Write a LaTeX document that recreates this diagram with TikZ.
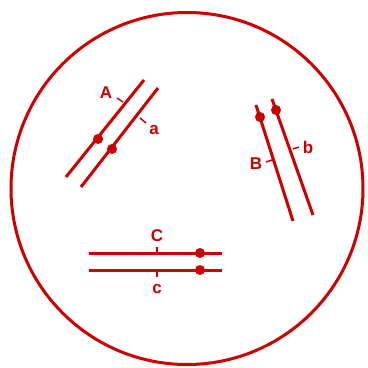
\documentclass[tikz,border=0pt]{standalone}
\usepackage{fontspec}
\setmainfont{Liberation Sans}
\begin{document}
\begin{tikzpicture}[x=1pt,y=-1pt,
  ln/.style={draw=rd,line width=3pt},
  tk/.style={draw=rd,line width=1.5pt},
  dot/.style={circle,fill=rd,inner sep=0pt,minimum size=10pt},
  lbl/.style={text=rd,font=\fontsize{17}{17}\selectfont\bfseries,inner sep=0pt}]
\definecolor{rd}{RGB}{204,0,0}
\useasboundingbox (0,0) rectangle (368,368);
\node[draw=rd,line width=3pt,circle,minimum size=352pt,inner sep=0pt] (ring) at (187,188.5) {};
% pair A/a
\coordinate (A1) at (66,177); \coordinate (A2) at (144,80);
\coordinate (a1) at (81,187); \coordinate (a2) at (158,88);
\draw[ln] (A1) -- (A2);
\draw[ln] (a1) -- (a2);
\node[dot] (dA) at (98,139) {};
\node[dot] (da) at (112,149) {};
\coordinate (tA) at (123,102); \coordinate (tA2) at (117,98);
\coordinate (ta) at (140,118); \coordinate (ta2) at (146,123);
\draw[tk] (tA) -- (tA2);
\draw[tk] (ta) -- (ta2);
\node[lbl] (LA) at (106,93) {A};
\node[lbl] (La) at (154,130) {a};
% pair B/b
\coordinate (B1) at (256,105); \coordinate (B2) at (293,221);
\coordinate (b1) at (272,99); \coordinate (b2) at (313,215);
\draw[ln] (B1) -- (B2);
\draw[ln] (b1) -- (b2);
\node[dot] (dB) at (260,117) {};
\node[dot] (db) at (276,110) {};
\coordinate (tB) at (272,160); \coordinate (tB2) at (266,162);
\coordinate (tb) at (293,149); \coordinate (tb2) at (299,147);
\draw[tk] (tB) -- (tB2);
\draw[tk] (tb) -- (tb2);
\node[lbl] (LB) at (256,164) {B};
\node[lbl] (Lb) at (308,147) {b};
% pair C/c
\coordinate (C1) at (89,253); \coordinate (C2) at (222,253);
\coordinate (c1) at (89,270); \coordinate (c2) at (222,270);
\draw[ln] (C1) -- (C2);
\draw[ln] (c1) -- (c2);
\node[dot] (dC) at (200,253) {};
\node[dot] (dc) at (200,270) {};
\coordinate (tC) at (157,253); \coordinate (tC2) at (157,247);
\coordinate (tc) at (157,270); \coordinate (tc2) at (157,277);
\draw[tk] (tC) -- (tC2);
\draw[tk] (tc) -- (tc2);
\node[lbl] (LC) at (157,236) {C};
\node[lbl] (Lc) at (157,289) {c};
\end{tikzpicture}
\end{document}
